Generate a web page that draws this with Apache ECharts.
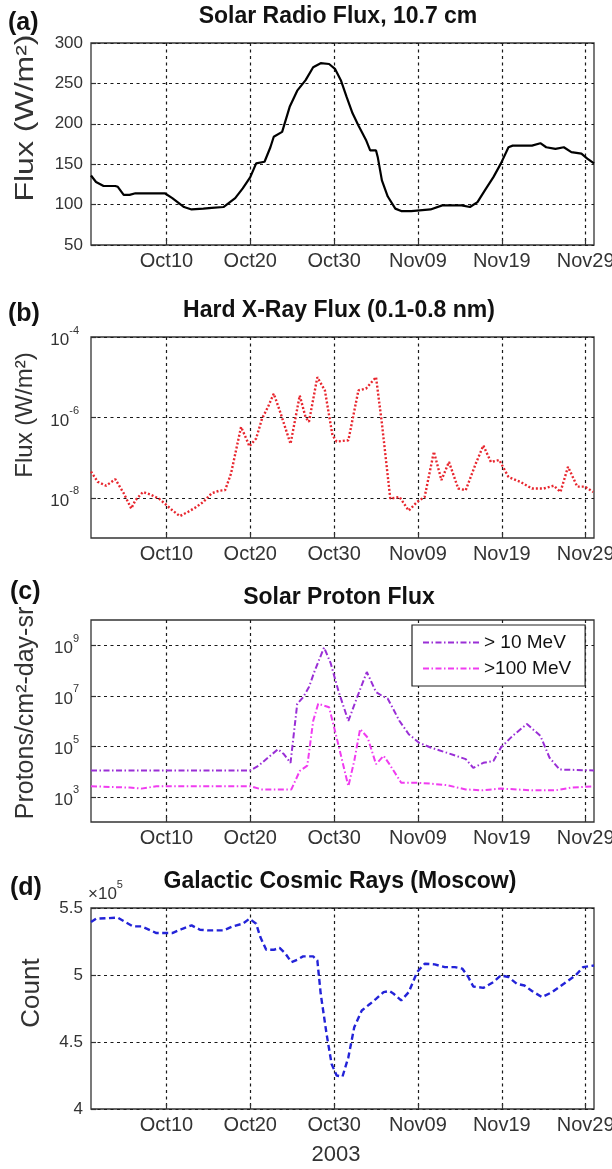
<!DOCTYPE html>
<html><head><meta charset="utf-8">
<script src="https://cdn.jsdelivr.net/npm/echarts@6/dist/echarts.min.js"></script>
<style>html,body{margin:0;padding:0;background:#fff}#c{width:612px;height:1169px}</style>
</head><body><div id="c"></div>
<script>
// ---- tick labels ----
const xTickDays = [10, 20, 30, 40, 50, 60];           // day index: Oct d = d, Nov d = 31 + d
const xTickLabels = ['Oct10', 'Oct20', 'Oct30', 'Nov09', 'Nov19', 'Nov29'];
const yTicksA = [50, 100, 150, 200, 250, 300];
const yTicksB = [1e-8, 1e-6, 1e-4];
const yTicksC = [1e3, 1e5, 1e7, 1e9];
const yTicksD = [4, 4.5, 5, 5.5];

// ---- (a) Solar radio flux 10.7 cm ----
const aDays = [1,1.6,2.5,3.9,4.2,4.9,5.6,6.3,9.8,10.7,12.1,13,14.4,15.4,16.8,18.2,19.1,20,20.7,21.7,22.4,22.8,23.8,24.7,25.6,26.6,27.5,28.4,29.4,30.1,30.8,31.5,32.2,32.9,33.8,34.3,35,35.2,35.7,36.4,37.3,38,39.2,41.5,42.9,45.2,46.2,47.1,48,49,49.9,50.8,51.3,53.6,54.6,55.3,56.4,57.4,58.3,59.5,60.2,61];
const aFlux = [136,128,123,123,122,112,112,114,114,108,97,94,95,96,97,108,120,134,151,153,171,184,190,221,241,254,270,275,274,268,254,233,213,198,180,167,167,159,130,110,95,92,92,94,99,99,97,103,118,134,151,171,173,173,176,171,169,171,165,163,157,151];

// ---- (b) Hard X-ray flux ----
const bDays = [1,1.8,2.8,3.9,4.9,5.8,6.3,7.2,8.1,9.1,9.8,10.7,11.6,12.6,13.5,14.4,15.4,16.3,17,17.7,18.4,18.9,19.6,19.9,20.7,21.4,22.1,22.8,23.5,24.8,25.9,26.6,27,28,28.9,29.8,30.3,31.7,32.9,33.8,35,35.7,36.7,37.8,38.9,39.9,40.8,41.9,42.8,43.7,44.8,45.7,46.9,47.8,48.7,49.7,50.8,52.2,53.6,55,56.2,57,57.9,59,59.9,60.9];
const bFlux = [4.5e-8,2.5e-8,2.0e-8,2.9e-8,1.3e-8,5.4e-9,8.7e-9,1.4e-8,1.2e-8,9.5e-9,7.2e-9,4.9e-9,3.5e-9,4.5e-9,5.8e-9,7.9e-9,1.3e-8,1.5e-8,1.55e-8,4.0e-8,1.9e-7,5.8e-7,2.7e-7,1.9e-7,3.0e-7,9.3e-7,1.8e-6,3.9e-6,1.5e-6,2.2e-7,3.5e-6,1.0e-6,7.8e-7,1.0e-5,4.7e-6,3.6e-7,2.5e-7,2.7e-7,4.7e-6,5.2e-6,1.0e-5,7.1e-7,9.5e-9,1.05e-8,4.8e-9,7.9e-9,1.05e-8,1.4e-7,2.75e-8,7.8e-8,1.7e-8,1.55e-8,7.1e-8,2.0e-7,7.8e-8,8.7e-8,3.3e-8,2.5e-8,1.7e-8,1.7e-8,2.0e-8,1.4e-8,5.9e-8,1.9e-8,1.9e-8,1.4e-8];

// ---- (c) Solar proton flux ----
const c10Days = [1,20,21,22.1,23.3,24,24.8,25.6,26.3,27,27.7,28.8,29.6,30.5,31.7,32.6,33.9,35,35.7,36.4,37.8,38.9,40.1,41.5,43.4,45.7,46.6,47.8,49,49.9,51.3,53,54.6,55.7,56.9,61];
const c10Flux = [1.1e4,1.1e4,1.7e4,3.5e4,7.6e4,4.9e4,2.2e4,4.8e6,8.7e6,2.2e7,1e8,8.1e8,1.9e8,1.6e7,1.0e6,6.5e6,8.7e7,1.4e7,1.0e7,7.6e6,1.0e6,3.0e5,1.4e5,8.9e4,5.6e4,3.1e4,1.4e4,2.2e4,2.6e4,8.9e4,2.6e5,7.6e5,2.6e5,3.5e4,1.2e4,1.1e4];
const c100Days = [1,5.6,7,8.8,20,21.4,22.8,24.9,25.9,26.8,27.5,28.1,29.4,30.3,31.7,32.4,33.1,34,35,35.9,36.6,38,39.6,41.5,43.4,45.7,47.6,49.9,51.8,53.6,56.4,58.3,61];
const c100Flux = [2.6e3,2.3e3,2.1e3,2.6e3,2.6e3,1.95e3,1.95e3,1.95e3,1.05e4,1.7e4,1.0e6,4.8e6,3.5e6,2.2e5,2.6e3,2.6e4,4.8e5,2.2e5,1.95e4,4.2e4,1.95e4,3.6e3,3.6e3,3.3e3,2.9e3,1.95e3,1.8e3,2.1e3,1.95e3,1.8e3,1.8e3,2.3e3,2.6e3];
const seriesNamesC = ['> 10 MeV', '>100 MeV'];

// ---- (d) Galactic cosmic rays (Moscow), count x 10^5 ----
const dDays = [1,1.6,4.2,5.1,6,7,8.1,8.8,10.7,11.9,13,14,14.9,16.8,17.9,19.1,19.9,20.7,21.2,21.9,22.8,23.5,24.2,24.9,25.6,26.3,27.5,28,28.4,29.1,29.7,30.3,31,31.7,32.4,33.3,34.3,35,35.9,36.6,37.1,38,38.9,39.9,40.8,42,43.2,44.4,45.3,46,46.6,47.8,49,49.9,50.8,51.8,52.7,53.6,54.8,56,57.4,58.8,59.7,61];
const dCount = [5.395,5.42,5.428,5.395,5.363,5.363,5.333,5.313,5.313,5.345,5.37,5.338,5.333,5.333,5.363,5.383,5.42,5.383,5.283,5.188,5.188,5.203,5.159,5.096,5.114,5.139,5.139,5.109,4.86,4.56,4.336,4.25,4.242,4.386,4.61,4.735,4.785,4.822,4.872,4.88,4.86,4.81,4.872,5.022,5.084,5.079,5.059,5.059,5.047,4.985,4.914,4.904,4.947,4.997,4.985,4.934,4.922,4.88,4.835,4.872,4.934,4.997,5.059,5.071];

// ---------------------------------------------------------------
const FONT = '"Liberation Sans", Arial, Helvetica, sans-serif';
const zip = (xs, ys) => xs.map((x, i) => [x, ys[i]]);
const gridBoxes = [
  {top: 43, height: 202},
  {top: 337, height: 201},
  {top: 620, height: 202},
  {top: 908, height: 201}
];
const grid = gridBoxes.map(g => ({
  left: 91, width: 503, top: g.top, height: g.height,
  show: true, borderColor: '#333', borderWidth: 1.3, backgroundColor: '#fff',
  containLabel: false, outerBoundsMode: 'none'
}));
const gridLine = {show: true, lineStyle: {color: '#1a1a1a', width: 1.2, type: [3, 3.5]}};

const xAxis = [0, 1, 2, 3].map(i => ({
  type: 'value', gridIndex: i, min: 1, max: 61,
  axisLine: {show: false},
  axisTick: {show: true, inside: true, length: 5, customValues: xTickDays, lineStyle: {color: '#333', width: 1.2}},
  axisLabel: {
    customValues: xTickDays, fontSize: 20, color: '#333', margin: 6, fontFamily: FONT,
    formatter: v => { const k = xTickDays.indexOf(Math.round(v)); return k >= 0 ? xTickLabels[k] : ''; }
  },
  splitLine: gridLine
}));

const expLabel = v => '{b|10}{s|' + Math.round(Math.log10(v)) + '}';
const logRich = {
  b: {fontSize: 17, lineHeight: 24, verticalAlign: 'bottom', color: '#333', fontFamily: FONT},
  s: {fontSize: 11, verticalAlign: 'top', color: '#333', fontFamily: FONT}
};
const yCommon = {
  axisLine: {show: false},
  axisTick: {show: true, inside: true, length: 5, lineStyle: {color: '#333', width: 1.2}},
  splitLine: gridLine
};
const yAxis = [
  Object.assign({}, yCommon, {
    type: 'value', gridIndex: 0, min: 50, max: 300, interval: 50,
    axisLabel: {fontSize: 17, color: '#333', margin: 8, fontFamily: FONT}
  }),
  Object.assign({}, yCommon, {
    type: 'log', logBase: 10, gridIndex: 1, min: 1e-9, max: 1e-4,
    axisTick: {show: true, inside: true, length: 5, customValues: yTicksB, lineStyle: {color: '#333', width: 1.2}},
    axisLabel: {customValues: yTicksB, formatter: expLabel, rich: logRich, margin: 12}
  }),
  Object.assign({}, yCommon, {
    type: 'log', logBase: 10, gridIndex: 2, min: 1e2, max: 1e10,
    axisTick: {show: true, inside: true, length: 5, customValues: yTicksC, lineStyle: {color: '#333', width: 1.2}},
    axisLabel: {customValues: yTicksC, formatter: expLabel, rich: logRich, margin: 12}
  }),
  Object.assign({}, yCommon, {
    type: 'value', gridIndex: 3, min: 4, max: 5.5, interval: 0.5,
    axisLabel: {fontSize: 17, color: '#333', margin: 8, fontFamily: FONT}
  })
];

const lineBase = {type: 'line', symbol: 'none', showSymbol: false, animation: false, clip: true};
const series = [
  Object.assign({}, lineBase, {xAxisIndex: 0, yAxisIndex: 0, data: zip(aDays, aFlux),
    lineStyle: {color: '#000', width: 2.2}}),
  Object.assign({}, lineBase, {xAxisIndex: 1, yAxisIndex: 1, data: zip(bDays, bFlux),
    lineStyle: {color: '#e8262e', width: 2.4, type: [2, 2]}}),
  Object.assign({}, lineBase, {name: seriesNamesC[0], xAxisIndex: 2, yAxisIndex: 2, data: zip(c10Days, c10Flux),
    itemStyle: {color: '#9a2fd6'}, lineStyle: {color: '#9a2fd6', width: 2, type: [6, 2.5, 1.5, 2.5]}}),
  Object.assign({}, lineBase, {name: seriesNamesC[1], xAxisIndex: 2, yAxisIndex: 2, data: zip(c100Days, c100Flux),
    itemStyle: {color: '#f03cf0'}, lineStyle: {color: '#f03cf0', width: 2, type: [6, 2.5, 1.5, 2.5]}}),
  Object.assign({}, lineBase, {xAxisIndex: 3, yAxisIndex: 3, data: zip(dDays, dCount),
    lineStyle: {color: '#2323d8', width: 2.4, type: [6, 3.5]}})
];

function txt(x, y, text, size, opts) {
  opts = opts || {};
  return {
    type: 'text', x: x, y: y, rotation: opts.rot || 0, scaleX: opts.sx || 1, z: 100,
    style: Object.assign({
      text: text, fontSize: size, fontWeight: opts.bold ? 'bold' : 'normal', fontFamily: FONT,
      fill: opts.color || '#111', align: opts.align || 'center', verticalAlign: 'middle',
      textAlign: opts.align || 'center', textVerticalAlign: 'middle'
    }, opts.rich ? {rich: opts.rich} : {})
  };
}
const R = Math.PI / 2;
const graphic = [
  txt(8, 23, '(a)', 25, {bold: true, align: 'left'}),
  txt(8, 314, '(b)', 25, {bold: true, align: 'left'}),
  txt(10, 592, '(c)', 25, {bold: true, align: 'left'}),
  txt(10, 888, '(d)', 25, {bold: true, align: 'left'}),
  txt(338, 17, 'Solar Radio Flux, 10.7 cm', 23, {bold: true}),
  txt(339, 311, 'Hard X-Ray Flux (0.1-0.8 nm)', 23, {bold: true}),
  txt(339, 598, 'Solar Proton Flux', 23, {bold: true}),
  txt(340, 882, 'Galactic Cosmic Rays (Moscow)', 23, {bold: true}),
  txt(26, 118, 'Flux (W/m²)', 25, {rot: R, sx: 1.28, color: '#333'}),
  txt(25, 415, 'Flux (W/m²)', 24, {rot: R, color: '#333'}),
  txt(26, 713, 'Protons/cm²-day-sr', 25, {rot: R, color: '#333'}),
  txt(32, 993, 'Count', 26, {rot: R, color: '#333'}),
  txt(88, 891, '{b|×10}{s|5}', 17, {align: 'left', color: '#333', rich: {
    b: {fontSize: 17, lineHeight: 24, verticalAlign: 'bottom', fill: '#333', color: '#333', fontFamily: FONT},
    s: {fontSize: 11, verticalAlign: 'top', fill: '#333', color: '#333', fontFamily: FONT}}}),
  txt(336, 1155, '2003', 22, {color: '#333'})
];

const chart = echarts.init(document.getElementById('c'), null, {renderer: 'canvas'});
chart.setOption({
  backgroundColor: '#fff',
  animation: false,
  grid: grid,
  xAxis: xAxis,
  yAxis: yAxis,
  series: series,
  legend: {
    data: seriesNamesC, orient: 'vertical', left: 412, top: 625,
    padding: [8, 14, 8, 10], itemWidth: 56, itemHeight: 14, itemGap: 7,
    itemStyle: {opacity: 0},
    backgroundColor: '#fff', borderColor: '#222', borderWidth: 1.2, z: 50,
    textStyle: {fontSize: 19, color: '#111', fontFamily: FONT}
  },
  graphic: graphic
});
</script>
</body></html>
